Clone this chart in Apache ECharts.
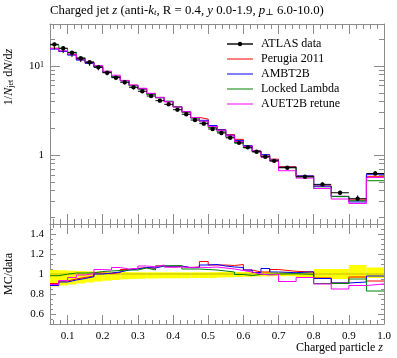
<!DOCTYPE html>
<html><head><meta charset="utf-8">
<script src="https://cdn.jsdelivr.net/npm/echarts@6/dist/echarts.min.js"></script>
<style>html,body{margin:0;padding:0;background:#fff}#c{width:397px;height:358px}</style>
</head><body><div id="c"></div>
<script>
// ---- data ----
const binEdges = [0.05,0.075,0.1,0.125,0.15,0.175,0.2,0.225,0.25,0.275,0.3,0.325,0.35,0.375,0.4,0.425,0.45,0.475,0.5,0.525,0.55,0.575,0.6,0.625,0.65,0.675,0.7,0.75,0.8,0.85,0.9,0.95,1.0];
const atlasData = [17.5,15.8,14.1,12.2,11.0,9.67,8.4,7.39,6.56,5.76,5.2,4.6,4.08,3.71,3.23,2.87,2.47,2.25,1.96,1.77,1.56,1.37,1.22,1.09,0.957,0.86,0.72,0.57,0.468,0.377,0.323,0.62];
// data uncertainty band in the ratio panel (upper / lower edge, relative to data)
const bandUp = [1.04,1.037,1.033,1.03,1.027,1.024,1.022,1.02,1.02,1.018,1.017,1.017,1.017,1.017,1.017,1.017,1.017,1.017,1.018,1.02,1.02,1.02,1.02,1.022,1.022,1.022,1.022,1.025,1.05,1.05,1.09,1.065];
const bandLo = [0.875,0.885,0.895,0.905,0.915,0.925,0.933,0.94,0.947,0.95,0.953,0.955,0.957,0.957,0.958,0.958,0.96,0.96,0.96,0.965,0.967,0.97,0.972,0.975,0.977,0.978,0.978,0.97,0.96,0.95,0.96,0.96];
// MC / data ratios
const ratioPerugia = [0.905,0.93,0.95,0.965,0.98,1.01,1.003,1.015,1.045,1.057,1.063,1.057,1.08,1.07,1.075,1.065,1.07,1.125,1.09,1.09,1.085,1.095,1.04,1.02,1.02,1.045,1.027,1.02,0.96,0.91,0.97,0.93];
const ratioAMBT2B = [0.885,0.92,0.94,0.955,0.973,1.0,1.01,1.02,1.04,1.05,1.065,1.06,1.08,1.078,1.08,1.063,1.065,1.09,1.095,1.08,1.07,1.065,1.04,1.015,1.055,1.02,1.013,1.022,0.955,0.91,0.92,0.98];
const ratioLocked = [0.983,0.998,1.01,1.01,1.012,1.025,1.03,1.035,1.04,1.04,1.06,1.04,1.08,1.083,1.083,1.05,1.05,1.045,1.04,1.03,1.02,0.995,0.985,0.995,0.997,1.0,1.003,0.997,0.905,0.905,0.95,0.83];
const ratioAUET2B = [0.895,0.935,0.965,0.99,1.003,1.045,1.04,1.065,1.05,1.057,1.08,1.072,1.09,1.068,1.07,1.065,1.068,1.065,1.07,1.06,1.05,1.035,1.02,1.0,0.99,0.995,0.925,0.965,0.9,0.85,0.885,0.9];
// tick values
const xMajor = [0.1,0.2,0.3,0.4,0.5,0.6,0.7,0.8,0.9,1.0];
const xMinor = [0.06,0.08,0.12,0.14,0.16,0.18,0.22,0.24,0.26,0.28,0.32,0.34,0.36,0.38,0.42,0.44,0.46,0.48,0.52,0.54,0.56,0.58,0.62,0.64,0.66,0.68,0.72,0.74,0.76,0.78,0.82,0.84,0.86,0.88,0.92,0.94,0.96,0.98];
const yMainMajor = [1,10];
const yMainMinor = [0.2,0.3,0.4,0.5,0.6,0.7,0.8,0.9,2,3,4,5,6,7,8,9,20];
const yRatioMajor = [0.6,0.8,1.0,1.2,1.4];
const yRatioMinor = [0.55,0.65,0.7,0.75,0.85,0.9,0.95,1.05,1.1,1.15,1.25,1.3,1.35,1.45];

const mcNames = ['Perugia 2011','AMBT2B','Locked Lambda','AUET2B retune'];
const mcColors = ['#ff0000','#0000ff','#008000','#ff00ff'];
const mcRatios = [ratioPerugia, ratioAMBT2B, ratioLocked, ratioAUET2B];

// ---- chart ----
const FONT = '"Liberation Serif", "DejaVu Serif", serif';
const AX = '#8c8c8c';

function xAx(grid, pos, ticks, len, extra) {
  return Object.assign({
    type:'value', gridIndex:grid, position:pos, min:0.05, max:1.0,
    axisLine:{show:false, onZero:false}, splitLine:{show:false},
    axisTick:{show:true, inside:true, length:len, customValues:ticks, lineStyle:{color:AX, width:1}},
    axisLabel:{show:false}
  }, extra || {});
}
function yAx(grid, pos, type, min, max, ticks, len, extra) {
  const o = {
    type:type, gridIndex:grid, position:pos, min:min, max:max,
    axisLine:{show:false, onZero:false}, splitLine:{show:false},
    axisTick:{show:true, inside:true, length:len, customValues:ticks, lineStyle:{color:AX, width:1}},
    axisLabel:{show:false}
  };
  if (type === 'log') o.logBase = 10;
  return Object.assign(o, extra || {});
}
const lineOn = {show:true, onZero:false, lineStyle:{color:AX, width:1}};

const xAxes = [
  xAx(0,'bottom',xMajor,10,{axisLine:lineOn}),
  xAx(0,'bottom',xMinor,5),
  xAx(0,'top',xMajor,10,{axisLine:lineOn}),
  xAx(0,'top',xMinor,5),
  xAx(1,'bottom',xMajor,9,{axisLine:lineOn, axisLabel:{show:true, customValues:xMajor, margin:7, color:'#000', fontFamily:FONT, fontSize:11,
      formatter:v=>(+v).toFixed(1)}}),
  xAx(1,'bottom',xMinor,4),
  xAx(1,'top',xMajor,10),
  xAx(1,'top',xMinor,4)
];
const yAxes = [
  yAx(0,'left','log',0.168,29.6,yMainMajor,10,{axisLine:lineOn, axisLabel:{show:true, customValues:yMainMajor, margin:6, color:'#000', fontFamily:FONT,
      formatter:v=> (Math.abs(v-10)<1e-6 ? '{b|10}{s|1}' : '{b|1}'),
      rich:{b:{fontFamily:FONT,fontSize:11,color:'#000',verticalAlign:'bottom'}, s:{fontFamily:FONT,fontSize:8,color:'#000',verticalAlign:'top'}}}}),
  yAx(0,'left','log',0.168,29.6,yMainMinor,5),
  yAx(0,'right','log',0.168,29.6,yMainMajor,10,{axisLine:lineOn}),
  yAx(0,'right','log',0.168,29.6,yMainMinor,5),
  yAx(1,'left','value',0.5,1.5,yRatioMajor,6,{axisLine:lineOn, axisLabel:{show:true, customValues:yRatioMajor, margin:6, color:'#000', fontFamily:FONT, fontSize:11,
      formatter:v=>String(+(+v).toFixed(2))}}),
  yAx(1,'left','value',0.5,1.5,yRatioMinor,3),
  yAx(1,'right','value',0.5,1.5,yRatioMajor,6,{axisLine:lineOn}),
  yAx(1,'right','value',0.5,1.5,yRatioMinor,3)
];

function stepData(vals) {
  return binEdges.map((e,i)=>[e, vals[Math.min(i, vals.length-1)]]);
}

const series = [];
// ratio band
series.push({
  type:'custom', xAxisIndex:4, yAxisIndex:4, z:1, silent:true,
  encode:{x:[0,1], y:[2,3]},
  data: atlasData.map((_,i)=>[binEdges[i], binEdges[i+1], bandUp[i], bandLo[i]]),
  renderItem:(params, api)=>{
    const a = api.coord([api.value(0), api.value(2)]);
    const b = api.coord([api.value(1), api.value(3)]);
    return {type:'rect', shape:{x:a[0], y:a[1], width:b[0]-a[0], height:b[1]-a[1]}, style:{fill:'#ffff00'}};
  }
});
series.push({
  type:'line', xAxisIndex:4, yAxisIndex:4, z:2, symbol:'none', silent:true,
  data:[[0.05,1],[1.0,1]], lineStyle:{color:'#c2b800', width:1}
});
// MC histograms
mcRatios.forEach((r,k)=>{
  const mc = atlasData.map((d,i)=>d*r[i]);
  series.push({name:mcNames[k], type:'line', step:'end', symbol:'none', xAxisIndex:0, yAxisIndex:0, z:3+k,
    data:stepData(mc), lineStyle:{color:mcColors[k], width:1}, silent:true});
  series.push({name:mcNames[k], type:'line', step:'end', symbol:'none', xAxisIndex:4, yAxisIndex:4, z:3+k,
    data:stepData(r), lineStyle:{color:mcColors[k], width:1}, silent:true});
});
// data points
series.push({
  name:'ATLAS data', type:'custom', xAxisIndex:0, yAxisIndex:0, z:10, silent:true,
  encode:{x:[0,1], y:[2,3,4]},
  data: atlasData.map((d,i)=>[binEdges[i], binEdges[i+1], d, d*bandUp[i], d*bandLo[i]]),
  renderItem:(params, api)=>{
    const lo = api.value(0), hi = api.value(1), c = (lo+hi)/2;
    const pL = api.coord([lo, api.value(2)]), pR = api.coord([hi, api.value(2)]);
    const pU = api.coord([c, api.value(3)]), pD = api.coord([c, api.value(4)]);
    return {type:'group', children:[
      {type:'line', shape:{x1:pL[0], y1:pL[1], x2:pR[0], y2:pR[1]}, style:{stroke:'#000', lineWidth:1}},
      {type:'line', shape:{x1:(pL[0]+pR[0])/2, y1:pU[1], x2:(pL[0]+pR[0])/2, y2:pD[1]}, style:{stroke:'#000', lineWidth:1}},
      {type:'circle', shape:{cx:(pL[0]+pR[0])/2, cy:pL[1], r:2.2}, style:{fill:'#000'}}
    ]};
  }
});

// legend (graphic)
const legendNames = ['ATLAS data'].concat(mcNames);
const legendColors = ['#000'].concat(mcColors);
const graphics = [];
legendNames.forEach((nm,i)=>{
  const y = 44 + i*15;
  graphics.push({type:'line', shape:{x1:227, y1:y, x2:253, y2:y}, style:{stroke:legendColors[i], lineWidth:i===0?1.4:1}, silent:true});
  if (i===0) graphics.push({type:'circle', shape:{cx:240, cy:y, r:2.2}, style:{fill:'#000'}, silent:true});
  graphics.push({type:'text', x:261, y:y, style:{text:nm, font:'12px '+FONT, fill:'#000', verticalAlign:'middle', align:'left'}, silent:true});
});
// title
function mkRich(fs) {
  return {
    n:{fontFamily:FONT, fontSize:fs, color:'#000'},
    i:{fontFamily:FONT, fontSize:fs, fontStyle:'italic', color:'#000'},
    sub:{fontFamily:FONT, fontSize:Math.round(fs*0.68), fontStyle:'italic', color:'#000', verticalAlign:'bottom'},
    subn:{fontFamily:FONT, fontSize:Math.round(fs*0.68), color:'#000', verticalAlign:'bottom'}
  };
}
graphics.push({type:'text', x:50, y:11, silent:true, style:{
  text:'{n|Charged jet }{i|z}{n| (anti-}{i|k}{sub|t}{n|, R = 0.4, }{i|y}{n| 0.0-1.9, }{i|p}{subn|⊥}{n| 6.0-10.0)}',
  rich:mkRich(12.8), verticalAlign:'middle', align:'left'}});
graphics.push({type:'text', x:9, y:77, rotation:Math.PI/2, silent:true, style:{
  text:'{n|1/}{i|N}{subn|jet}{n| d}{i|N}{n|/d}{i|z}', rich:mkRich(12), verticalAlign:'middle', align:'center'}});
graphics.push({type:'text', x:9, y:274, rotation:Math.PI/2, silent:true, style:{
  text:'{n|MC/data}', rich:mkRich(12), verticalAlign:'middle', align:'center'}});
graphics.push({type:'text', x:383, y:348, silent:true, style:{
  text:'{n|Charged particle }{i|z}', rich:mkRich(12), verticalAlign:'middle', align:'right'}});

const chart = echarts.init(document.getElementById('c'), null, {renderer:'canvas'});
chart.setOption({
  animation:false,
  backgroundColor:'#fff',
  grid:[{left:50, top:24, width:334, height:200}, {left:50, top:224, width:334, height:100}],
  xAxis:xAxes, yAxis:yAxes, series:series, graphic:graphics
});
</script></body></html>
